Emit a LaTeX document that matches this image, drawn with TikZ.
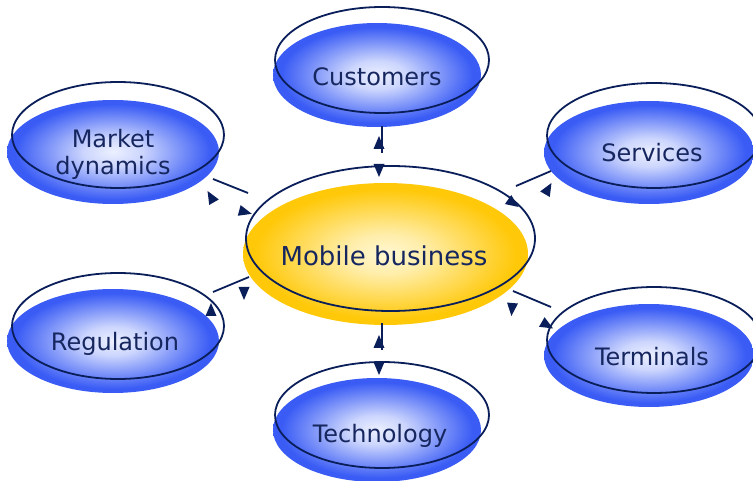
\documentclass[tikz,border=0pt]{standalone}
\usepackage{fontspec}
\setmainfont{DejaVu Sans}
\definecolor{navy}{RGB}{10,30,90}
\definecolor{txt}{RGB}{22,38,95}
\definecolor{bin}{RGB}{236,240,255}
\definecolor{bout}{RGB}{58,92,245}
\definecolor{yin}{RGB}{255,247,210}
\definecolor{yout}{RGB}{255,200,8}
\pgfdeclareradialshading{bluesh}{\pgfpoint{0bp}{0bp}}{color(0bp)=(bin); color(7bp)=(bin!82!bout); color(23bp)=(bout); color(50bp)=(bout)}
\pgfdeclareradialshading{yellowsh}{\pgfpoint{0bp}{0bp}}{color(0bp)=(yin); color(7bp)=(yin!80!yout); color(23bp)=(yout); color(50bp)=(yout)}
\begin{document}
\begin{tikzpicture}[x=1pt,y=-1pt,
  lab/.style={text=txt, font=\fontsize{24}{27}\selectfont, anchor=base, inner sep=0pt, align=center},
  ring/.style={draw=navy, line width=1.8pt},
  conn/.style={draw=navy, line width=1.8pt},
  ahead/.pic={\fill[navy] (7pt,0pt) -- (-6pt,5.5pt) -- (-6pt,-5.5pt) -- cycle;}]
\path[use as bounding box] (0,0) rectangle (753,481);
\clip (0,0) rectangle (753,481);
% shaded bodies
\shade[shading=bluesh] (377,75) ellipse [x radius=104pt, y radius=52pt];
\shade[shading=bluesh] (113,152) ellipse [x radius=106pt, y radius=52pt];
\shade[shading=bluesh] (649,152.5) ellipse [x radius=105pt, y radius=51.5pt];
\shade[shading=bluesh] (113,341) ellipse [x radius=106pt, y radius=52pt];
\shade[shading=bluesh] (649,355.5) ellipse [x radius=105pt, y radius=51.5pt];
\shade[shading=bluesh] (377,430) ellipse [x radius=104pt, y radius=52pt];
\shade[shading=yellowsh] (385.5,254) ellipse [x radius=142.5pt, y radius=71pt];
% outline rings
\draw[ring] (382,60) ellipse [x radius=107pt, y radius=53pt];
\draw[ring] (118,135) ellipse [x radius=106pt, y radius=53pt];
\draw[ring] (654,135.5) ellipse [x radius=107pt, y radius=52.5pt];
\draw[ring] (118,326) ellipse [x radius=106pt, y radius=53pt];
\draw[ring] (654,340) ellipse [x radius=107pt, y radius=53pt];
\draw[ring] (382,415) ellipse [x radius=107pt, y radius=53pt];
\draw[ring] (390.5,238.5) ellipse [x radius=144.5pt, y radius=72.5pt];
% labels
\node[lab] (cust) at (377,86) {Customers};
\node[lab] (mkt) at (113,175) {Market\\dynamics};
\node[lab] (serv) at (652,162) {Services};
\node[lab] (reg) at (115,351) {Regulation};
\node[lab] (term) at (652,366) {Terminals};
\node[lab] (tech) at (380,442) {Technology};
\node[lab, font=\fontsize{26}{29}\selectfont] (mob) at (384,266) {Mobile business};
% connector ends
\coordinate (mk1) at (213,179); \coordinate (mk2) at (248,193);
\coordinate (cu1) at (382,126); \coordinate (cu2) at (382,153);
\coordinate (sv1) at (516,186); \coordinate (sv2) at (551,171);
\coordinate (rg1) at (213,292); \coordinate (rg2) at (249,277);
\coordinate (tm1) at (513,291); \coordinate (tm2) at (551,307);
\coordinate (tc1) at (382,323); \coordinate (tc2) at (382,350);
\draw[conn] (mk1) -- (mk2);
\draw[conn] (cu1) -- (cu2);
\draw[conn] (sv1) -- (sv2);
\draw[conn] (rg1) -- (rg2);
\draw[conn] (tm1) -- (tm2);
\draw[conn] (tc1) -- (tc2);
% arrowheads
\pic[rotate=120] at (211,197) {ahead};
\pic[rotate=-15] at (245,212) {ahead};
\pic[rotate=90] at (379,143) {ahead};
\pic[rotate=-90] at (379,170) {ahead};
\pic[rotate=60] at (548,189) {ahead};
\pic[rotate=-35] at (513,203) {ahead};
\pic[rotate=-90] at (244,293) {ahead};
\pic[rotate=90] at (211,310) {ahead};
\pic[rotate=-95] at (512,309) {ahead};
\pic[rotate=-30] at (547,325) {ahead};
\pic[rotate=90] at (379,342) {ahead};
\pic[rotate=-90] at (379,368) {ahead};
\end{tikzpicture}
\end{document}
